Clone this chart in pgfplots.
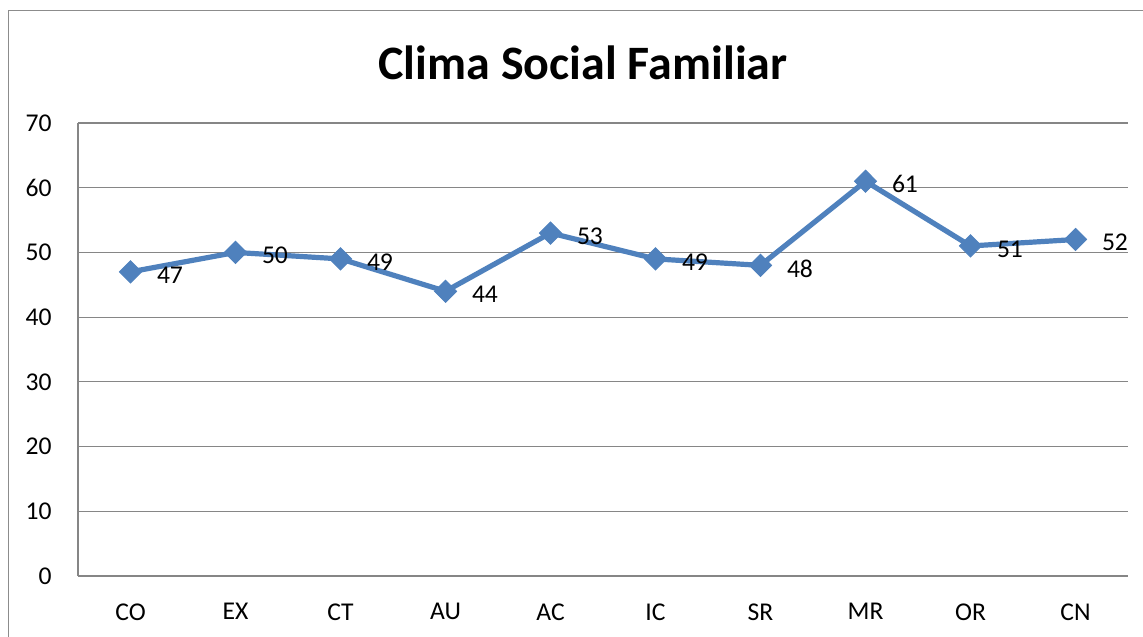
\documentclass[border=0pt]{standalone}
\usepackage{pgfplots}
\pgfplotsset{compat=1.18}
\usepackage{fontspec}
\setmainfont{Carlito}
\definecolor{serie}{RGB}{79,129,189}
\definecolor{grilla}{RGB}{134,134,134}
\definecolor{borde}{RGB}{140,140,140}
\pgfplotsset{/pgf/number format/assume math mode=true}
\begin{document}
\begin{tikzpicture}
\clip (0,0) rectangle (571.5pt,318pt);
\draw[borde, line width=0.6pt] (4.2pt,-2pt) -- (4.2pt,312.7pt) -- (573pt,312.7pt);
\node[font=\fontsize{24}{28}\selectfont\bfseries, anchor=base, inner sep=0pt] at (291.5pt,278pt) {Clima Social Familiar};
\begin{axis}[
  at={(39pt,30pt)}, anchor=south west,
  scale only axis, width=525pt, height=226.5pt,
  xmin=-0.5, xmax=9.5, ymin=0, ymax=70,
  xtick={0,...,9},
  xticklabels={CO,EX,CT,AU,AC,IC,SR,MR,OR,CN},
  ytick={0,10,...,70},
  axis lines=left,
  axis line style={-, grilla, line width=0.6pt},
  ymajorgrids, grid style={grilla, line width=0.6pt},
  major tick length=0pt,
  tick label style={font=\fontsize{12.8}{15}\selectfont},
  yticklabel style={anchor=east, inner sep=0pt, xshift=-13pt},
  xticklabel style={anchor=north, inner sep=0pt, yshift=-13.5pt},
  clip=false,
  nodes near coords,
  nodes near coords style={anchor=west, inner sep=0pt, xshift=13pt, yshift=-1.5pt, font=\fontsize{12.8}{15}\selectfont, text=black},
]
\addplot[serie, line width=2.6pt, mark=square*, mark size=3.9pt, mark options={rotate=45, fill=serie, draw=serie, line width=0.5pt}]
coordinates {(0,47) (1,50) (2,49) (3,44) (4,53) (5,49) (6,48) (7,61) (8,51) (9,52)};
\end{axis}
\useasboundingbox (0,0) rectangle (571.5pt,318pt);
\end{tikzpicture}
\end{document}
